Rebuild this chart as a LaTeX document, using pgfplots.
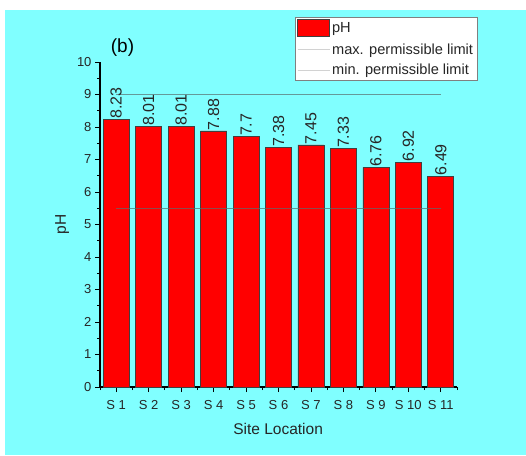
\documentclass[border=0pt]{standalone}
\usepackage{pgfplots}
\pgfplotsset{compat=1.18}
\usepackage{fontspec}
\setmainfont{Liberation Sans}
\definecolor{bgcyan}{RGB}{128,255,255}
\definecolor{limitgray}{RGB}{90,110,110}
\begin{document}
\begin{tikzpicture}[x=1pt,y=1pt]
\useasboundingbox (0,0) rectangle (526,455);
\fill[white] (0,0) rectangle (526,455);
\fill[bgcyan] (5,0) rectangle (526,445);
\node[font=\fontsize{19}{22}\selectfont] at (122.5,407.5) {(b)};
\begin{axis}[
  at={(100pt,68pt)}, anchor=south west,
  scale only axis, width=357pt, height=325pt,
  /pgf/number format/assume math mode=true,
  xmin=0.5, xmax=11.5, ymin=0, ymax=10,
  axis x line=bottom, axis y line=left,
  axis line style={-, line width=1.2pt, black},
  tick align=outside,
  major tick length=5pt, minor tick length=3pt,
  every tick/.style={black, line width=0.9pt},
  xtick={1,...,11},
  xticklabels={S 1,S 2,S 3,S 4,S 5,S 6,S 7,S 8,S 9,S 10,S 11},
  minor xtick={0.5,1.5,...,11.5},
  ytick={0,1,...,10},
  minor ytick={0.5,1.5,...,9.5},
  tick label style={font=\fontsize{13}{15}\selectfont, text=black!85},
  xticklabel style={yshift=-5pt},
  xlabel={Site Location}, ylabel={pH},
  label style={font=\fontsize{15.5}{18}\selectfont, text=black!85},
  xlabel style={at={(axis description cs:0.499,-0.129)}, anchor=center},
  ylabel style={at={(axis description cs:-0.106,0.5)}, anchor=center},
  legend style={at={(axis description cs:0.546,1.138)}, anchor=north west,
    draw=black!50, fill=white, font=\fontsize{14.6}{17}\selectfont,
    inner sep=2pt, row sep=4.5pt, cells={anchor=west}, text=black!85},
  legend cell align=left,
]
\addplot[ybar, bar width=0.8, fill=red, draw=black!75, line width=0.6pt,
  nodes near coords,
  nodes near coords style={rotate=90, anchor=west, inner sep=0.5pt,
    font=\fontsize{16}{18}\selectfont, text=black!85},
  legend image code/.code={\draw[fill=red, draw=black!75, line width=0.6pt] (0pt,-8.5pt) rectangle (32pt,8.5pt);}]
  coordinates {(1,8.23) (2,8.01) (3,8.01) (4,7.88) (5,7.7) (6,7.38) (7,7.45) (8,7.33) (9,6.76) (10,6.92) (11,6.49)};
\addlegendentry{pH}
\addplot[sharp plot, no marks, draw=limitgray, draw opacity=0.7, line width=1pt,
  legend image code/.code={\draw[black!25, line width=1pt] (0pt,0pt) -- (32pt,0pt);}]
  coordinates {(1,9) (11,9)};
\addlegendentry{max. permissible limit}
\addplot[sharp plot, no marks, draw=limitgray, draw opacity=0.7, line width=1pt,
  legend image code/.code={\draw[black!25, line width=1pt] (0pt,0pt) -- (32pt,0pt);}]
  coordinates {(1,5.5) (11,5.5)};
\addlegendentry{min. permissible limit}
\end{axis}
\end{tikzpicture}
\end{document}
